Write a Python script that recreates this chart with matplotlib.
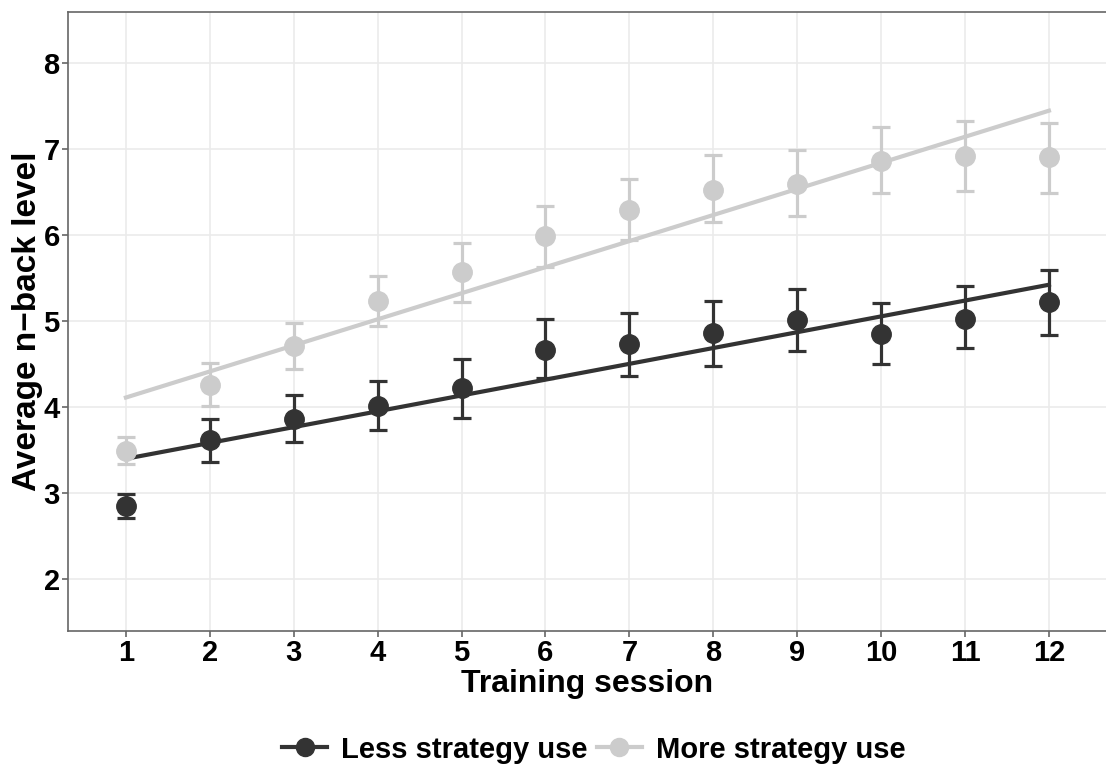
import matplotlib
matplotlib.use("Agg")
import matplotlib.pyplot as plt
import numpy as np

plt.rcParams['font.family'] = ['Liberation Sans', 'DejaVu Sans']
plt.rcParams['font.weight'] = 'bold'

# data
sessions = np.arange(1, 13)

less_mean = [2.85, 3.62, 3.87, 4.02, 4.22, 4.67, 4.74, 4.86, 5.01, 4.85, 5.03, 5.22]
less_low = [2.71, 3.37, 3.60, 3.74, 3.88, 4.34, 4.36, 4.48, 4.65, 4.50, 4.69, 4.84]
less_high = [2.99, 3.87, 4.14, 4.31, 4.56, 5.03, 5.10, 5.24, 5.38, 5.21, 5.41, 5.59]

more_mean = [3.49, 4.26, 4.71, 5.23, 5.57, 5.99, 6.29, 6.53, 6.60, 6.86, 6.92, 6.91]
more_low = [3.34, 4.02, 4.44, 4.95, 5.22, 5.63, 5.94, 6.15, 6.22, 6.49, 6.51, 6.49]
more_high = [3.65, 4.51, 4.98, 5.52, 5.91, 6.34, 6.65, 6.93, 6.99, 7.26, 7.33, 7.30]

groups = [
    ("Less strategy use", less_mean, less_low, less_high, "#333333"),
    ("More strategy use", more_mean, more_low, more_high, "#cccccc"),
]

fig = plt.figure(figsize=(11.06, 7.65), dpi=100)
ax = fig.add_axes([0.0615, 0.175, 0.9385, 0.809])

handles = []
for label, mean, low, high, col in groups:
    mean = np.array(mean)
    err = [mean - np.array(low), np.array(high) - mean]
    ax.errorbar(sessions, mean, yerr=err, fmt='none', ecolor=col,
                elinewidth=2.3, capsize=6.5, capthick=2.3, zorder=3)
    ax.plot(sessions, mean, 'o', color=col, markersize=14, zorder=4)
    # linear fit through the session means
    slope, icpt = np.polyfit(sessions, mean, 1)
    ax.plot(sessions, icpt + slope * sessions, color=col, lw=3, zorder=2)
    h, = ax.plot([], [], '-o', color=col, lw=3, markersize=13, label=label)
    handles.append(h)

ax.set_xlim(0.31, 12.68)
ax.set_ylim(1.4, 8.59)
ax.set_xticks(sessions)
ax.set_yticks(range(2, 9))
ax.grid(color='#ebebeb', lw=1.2)
ax.set_axisbelow(True)

for s in ['left', 'bottom', 'top']:
    ax.spines[s].set_color('#666666')
    ax.spines[s].set_linewidth(1.2)
ax.spines['right'].set_visible(False)
ax.tick_params(colors='#666666', length=4, width=1.2, labelsize=21,
               labelcolor='black', pad=2)
for t in ax.get_xticklabels() + ax.get_yticklabels():
    t.set_fontweight('bold')

ax.set_xlabel("Training session", fontsize=23, fontweight='bold', labelpad=1)
ax.set_ylabel("Average n\u2212back level", fontsize=24, fontweight='bold', labelpad=0)

fig.legend(handles=handles, loc='center', bbox_to_anchor=(0.537, 0.02),
           ncol=2, frameon=False, handlelength=1.55,
           handletextpad=0.48, columnspacing=0.3,
           prop={'weight': 'bold', 'size': 21})

fig.savefig("out.png", dpi=100)
